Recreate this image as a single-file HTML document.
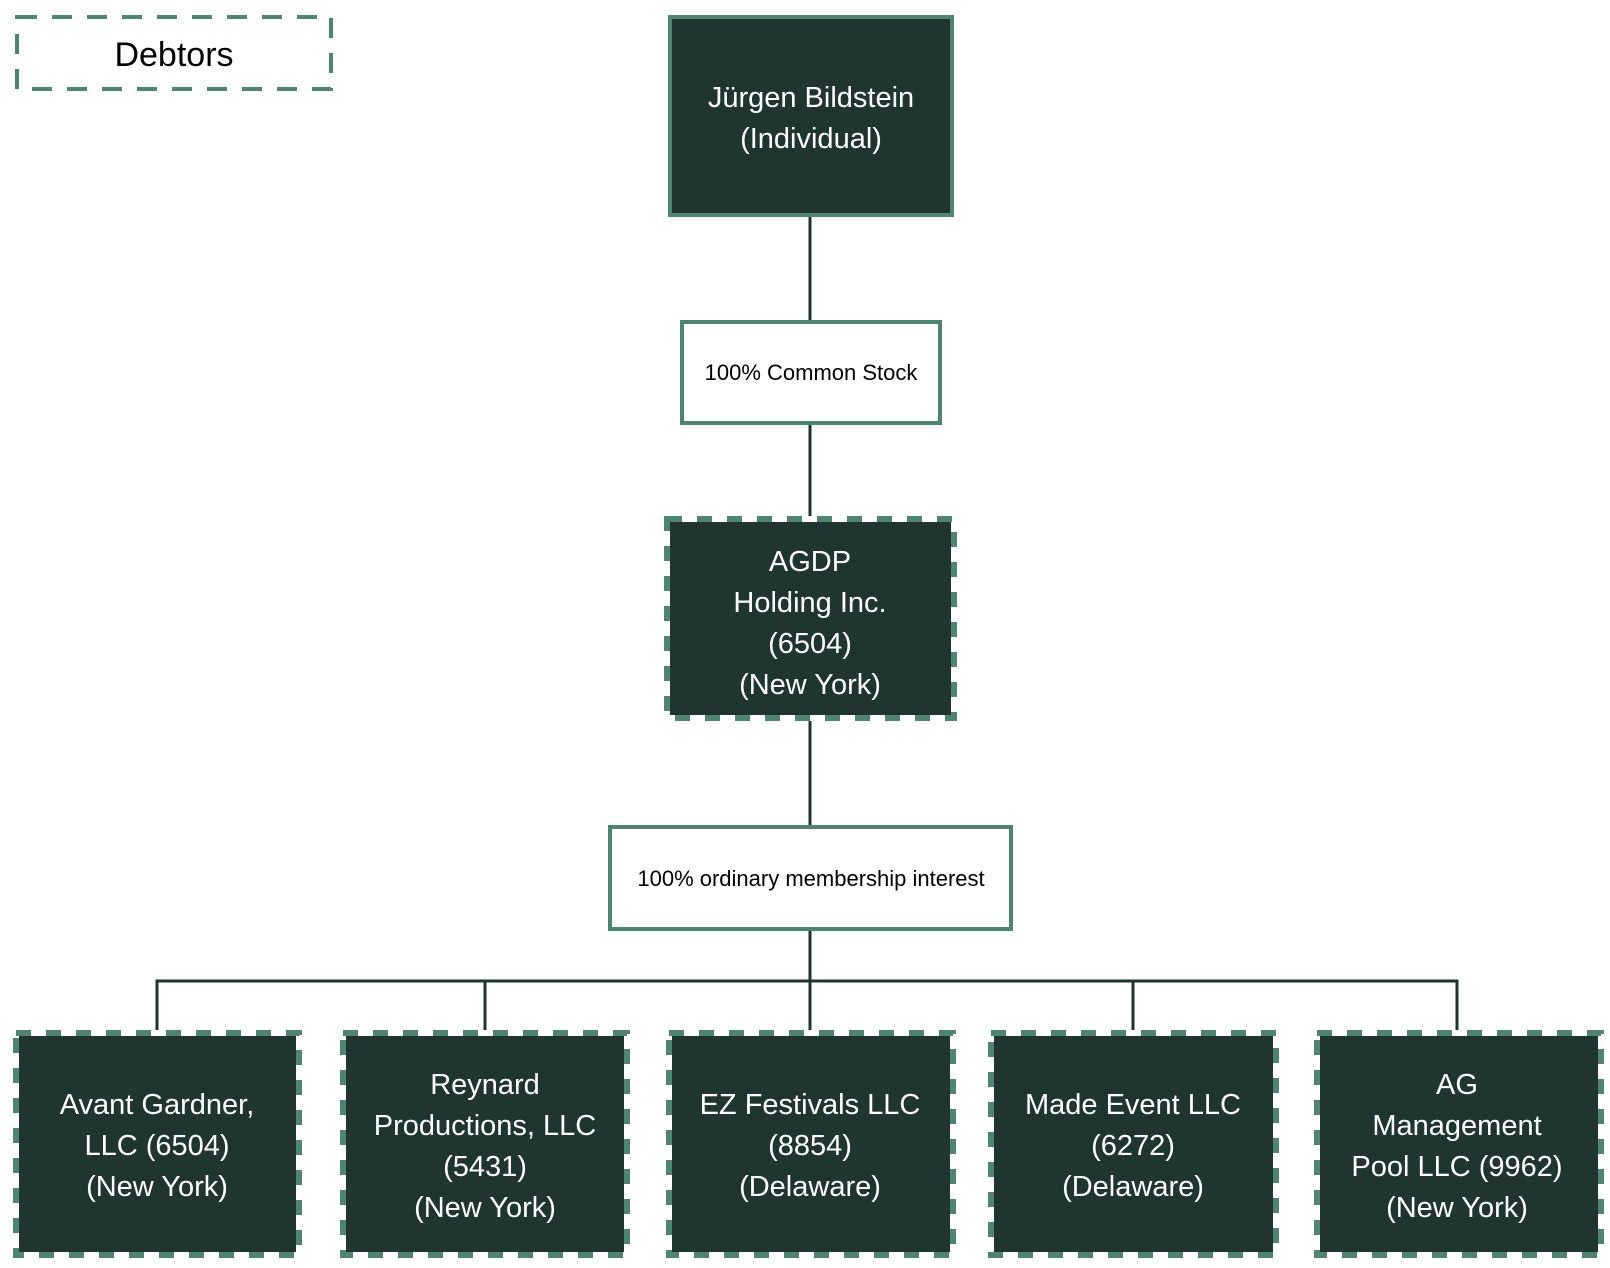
<!DOCTYPE html>
<html><head><meta charset="utf-8"><style>html,body{margin:0;padding:0;background:#fff}svg{display:block}</style></head>
<body>
<svg width="1610" height="1268" viewBox="0 0 1610 1268" xmlns="http://www.w3.org/2000/svg" font-family="Liberation Sans, sans-serif">
<g stroke="#1f342e" stroke-width="3" fill="none">
<line x1="810" y1="217" x2="810" y2="320"/>
<line x1="810" y1="424" x2="810" y2="518"/>
<line x1="810" y1="718" x2="810" y2="825"/>
<line x1="810" y1="930" x2="810" y2="1032"/>
<polyline points="157,1032 157,981 1457,981 1457,1032"/>
<line x1="485" y1="981" x2="485" y2="1032"/>
<line x1="1133" y1="981" x2="1133" y2="1032"/>
</g>
<rect x="17" y="17" width="314" height="72" fill="#fff" stroke="#4f8570" stroke-width="4" stroke-dasharray="20 15"/>
<text x="174" y="66" font-size="34" text-anchor="middle" fill="#000">Debtors</text>
<rect x="670" y="17" width="282" height="198" fill="#20352f" stroke="#4f8570" stroke-width="4"/>
<text x="811" y="107" font-size="29" text-anchor="middle" fill="#fff">Jürgen Bildstein</text>
<text x="811" y="148" font-size="29" text-anchor="middle" fill="#fff">(Individual)</text>
<rect x="682" y="322" width="258" height="101" fill="#fff" stroke="#4f8570" stroke-width="4"/>
<text x="811" y="380" font-size="22" text-anchor="middle" fill="#000">100% Common Stock</text>
<rect x="610" y="827" width="401" height="102" fill="#fff" stroke="#4f8570" stroke-width="4"/>
<text x="811" y="886" font-size="22" text-anchor="middle" fill="#000">100% ordinary membership interest</text>
<g font-size="29" text-anchor="middle" fill="#fff">
<g>
<rect x="667" y="519" width="287" height="199" fill="#20352f" stroke="#fff" stroke-width="6"/>
<rect x="667" y="519" width="287" height="199" fill="none" stroke="#4f8570" stroke-width="6" stroke-dasharray="15 15"/>
<text x="810" y="571">AGDP</text><text x="810" y="612">Holding Inc.</text><text x="810" y="653">(6504)</text><text x="810" y="694">(New York)</text>
</g>
<g>
<rect x="16" y="1033" width="283" height="222" fill="#20352f" stroke="#fff" stroke-width="6"/>
<rect x="16" y="1033" width="283" height="222" fill="none" stroke="#4f8570" stroke-width="6" stroke-dasharray="15 15"/>
<text x="157" y="1114">Avant Gardner,</text><text x="157" y="1155">LLC (6504)</text><text x="157" y="1196">(New York)</text>
</g>
<g>
<rect x="343" y="1033" width="284" height="222" fill="#20352f" stroke="#fff" stroke-width="6"/>
<rect x="343" y="1033" width="284" height="222" fill="none" stroke="#4f8570" stroke-width="6" stroke-dasharray="15 15"/>
<text x="485" y="1094">Reynard</text><text x="485" y="1135">Productions, LLC</text><text x="485" y="1176">(5431)</text><text x="485" y="1217">(New York)</text>
</g>
<g>
<rect x="669" y="1033" width="284" height="222" fill="#20352f" stroke="#fff" stroke-width="6"/>
<rect x="669" y="1033" width="284" height="222" fill="none" stroke="#4f8570" stroke-width="6" stroke-dasharray="15 15"/>
<text x="810" y="1114">EZ Festivals LLC</text><text x="810" y="1155">(8854)</text><text x="810" y="1196">(Delaware)</text>
</g>
<g>
<rect x="991" y="1033" width="285" height="222" fill="#20352f" stroke="#fff" stroke-width="6"/>
<rect x="991" y="1033" width="285" height="222" fill="none" stroke="#4f8570" stroke-width="6" stroke-dasharray="15 15"/>
<text x="1133" y="1114">Made Event LLC</text><text x="1133" y="1155">(6272)</text><text x="1133" y="1196">(Delaware)</text>
</g>
<g>
<rect x="1317" y="1033" width="284" height="222" fill="#20352f" stroke="#fff" stroke-width="6"/>
<rect x="1317" y="1033" width="284" height="222" fill="none" stroke="#4f8570" stroke-width="6" stroke-dasharray="15 15"/>
<text x="1457" y="1094">AG</text><text x="1457" y="1135">Management</text><text x="1457" y="1176">Pool LLC (9962)</text><text x="1457" y="1217">(New York)</text>
</g>
</g>
</svg>
</body></html>
